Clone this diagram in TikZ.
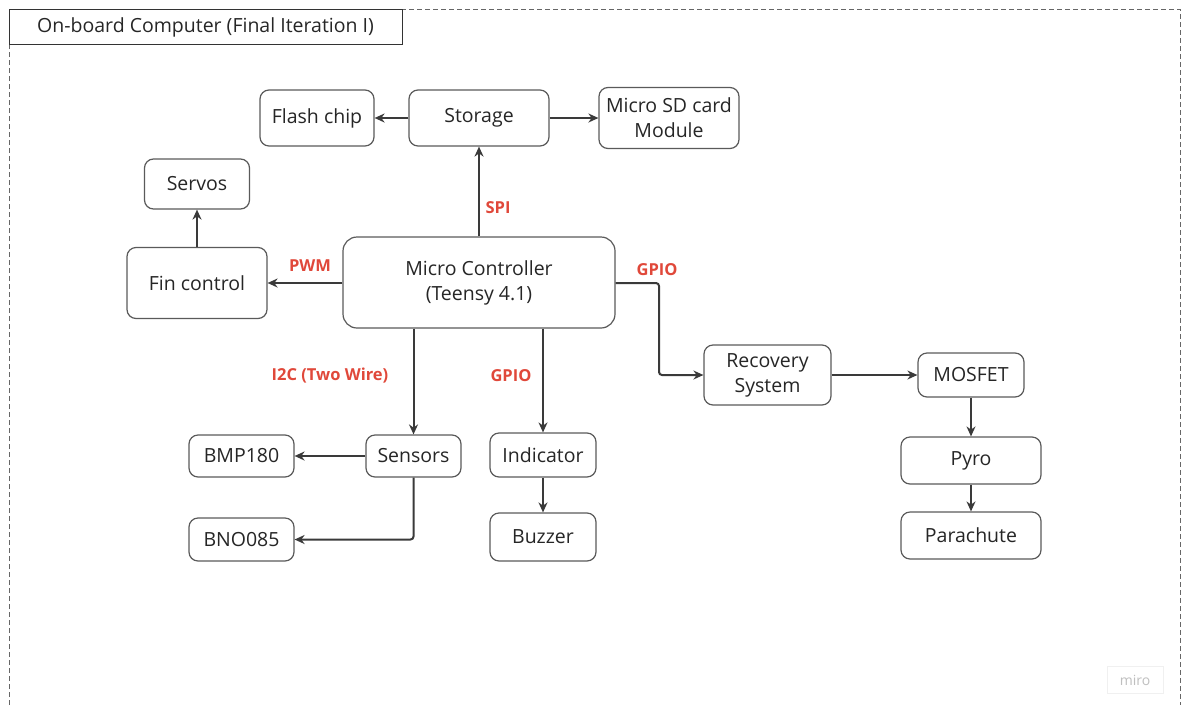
\documentclass[tikz,border=0pt]{standalone}
\usepackage{fontspec}
\setmainfont{Open Sans}
\usetikzlibrary{arrows.meta}
\definecolor{linegray}{HTML}{3A3A3A}
\definecolor{boxgray}{HTML}{5A5A5A}
\definecolor{labelred}{HTML}{E0483A}
\tikzset{
  blk/.style={draw=boxgray, line width=1.2pt, rounded corners=9pt, fill=white,
    align=center, font=\fontsize{19.5}{25}\selectfont, text=black!85, inner sep=0pt},
  conn/.style={draw=linegray, line width=2pt, -{Stealth[length=10pt,width=9pt]}},
  tag/.style={text=labelred, font=\bfseries\fontsize{16.5}{19}\selectfont, inner sep=0pt},
}
\begin{document}
\begin{tikzpicture}[x=1pt,y=-1pt]
\useasboundingbox (0,0) rectangle (1181,705);
% outer frame
\draw[gray!80!black, line width=1pt, dash pattern=on 5pt off 3pt]
  (9,705) -- (9,9) -- (1180,9) -- (1180,705);
\node[draw=black!80, line width=1pt, minimum width=393pt, minimum height=35pt,
  inner sep=0pt, font=\fontsize{19.5}{22}\selectfont, text=black!85] (title) at (205.5,27)
  {On-board Computer (Final Iteration I)};

% blocks
\node[blk, minimum width=114pt, minimum height=56pt] (flash) at (317,118) {Flash chip};
\node[blk, minimum width=140pt, minimum height=56pt] (storage) at (479,118) {Storage};
\node[blk, minimum width=140pt, minimum height=61pt] (sd) at (669,118) {Micro SD card\\Module};
\node[blk, minimum width=105pt, minimum height=50pt] (servos) at (197,184) {Servos};
\node[blk, minimum width=140pt, minimum height=71pt] (fin) at (197,283) {Fin control};
\node[blk, minimum width=272pt, minimum height=91pt, rounded corners=14pt] (mcu) at (479,282.5) {Micro Controller\\(Teensy 4.1)};
\node[blk, minimum width=127pt, minimum height=60pt] (recovery) at (767.5,375) {Recovery\\System};
\node[blk, minimum width=106pt, minimum height=44pt] (mosfet) at (971,375) {MOSFET};
\node[blk, minimum width=140pt, minimum height=47pt] (pyro) at (971,460.5) {Pyro};
\node[blk, minimum width=140pt, minimum height=47pt] (chute) at (971,535.5) {Parachute};
\node[blk, minimum width=105pt, minimum height=42pt] (bmp) at (241.5,456) {BMP180};
\node[blk, minimum width=105pt, minimum height=43pt] (bno) at (241.5,539.5) {BNO085};
\node[blk, minimum width=95pt, minimum height=42pt] (sensors) at (413.5,456) {Sensors};
\node[blk, minimum width=106pt, minimum height=44pt] (indicator) at (543,455) {Indicator};
\node[blk, minimum width=106pt, minimum height=48pt] (buzzer) at (543,537) {Buzzer};

% connectors
\draw[conn] (mcu.north) -- (storage.south);
\draw[conn] (storage.west) -- (flash.east);
\draw[conn] (storage.east) -- (sd.west);
\draw[conn] (mcu.west |- fin.east) -- (fin.east);
\draw[conn] (fin.north) -- (servos.south);
\draw[conn] (sensors.north |- mcu.south) -- (sensors.north);
\draw[conn] (indicator.north |- mcu.south) -- (indicator.north);
\draw[conn] (indicator.south) -- (buzzer.north);
\draw[conn, rounded corners=3pt] (mcu.east |- fin.east) -| (659,375) -- (recovery.west);
\draw[conn] (recovery.east) -- (mosfet.west);
\draw[conn] (mosfet.south) -- (pyro.north);
\draw[conn] (pyro.south) -- (chute.north);
\draw[conn] (sensors.west) -- (bmp.east);
\draw[conn, rounded corners=3pt] (sensors.south) |- (bno.east);

% interface labels
\node[tag] (lspi) at (498,208) {SPI};
\node[tag] (lpwm) at (310,266) {PWM};
\node[tag] (lgpio1) at (657,270) {GPIO};
\node[tag] (li2c) at (330,376) {I2C (Two Wire)};
\node[tag] (lgpio2) at (511,376) {GPIO};

% watermark
\node[draw=black!6, fill=white, minimum width=56pt, minimum height=27pt, inner sep=0pt,
  text=black!25, font=\fontsize{14}{16}\selectfont] (wm) at (1135,680) {miro};
\end{tikzpicture}
\end{document}
